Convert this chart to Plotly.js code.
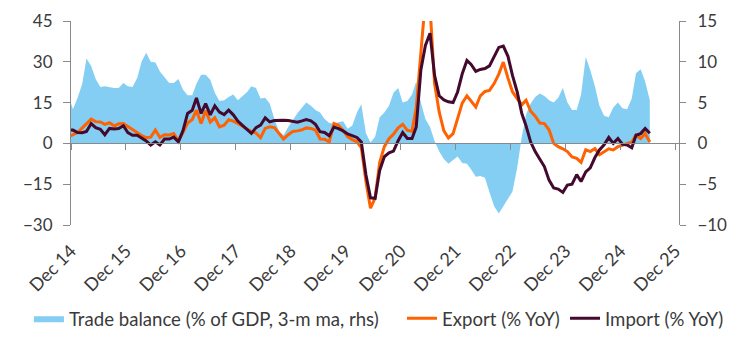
<!DOCTYPE html>
<html>
<head>
<meta charset="utf-8">
<script src="https://cdn.plot.ly/plotly-3.0.1.min.js"></script>
<style>
html,body{margin:0;padding:0;background:#ffffff;}
#chart{width:742px;height:343px;}
</style>
</head>
<body>
<div id="chart"></div>
<script>
// First observation month and number of monthly observations (Nov 2014 .. Jun 2025)
const firstYear = 2014;
const firstMonth = 11;
const nObs = 128;

// Trade balance, % of GDP, 3-m ma (right axis)
const tradeBalance = [
  5.8,
  4.2, 5.6, 7.3, 10.4, 9.5, 7.9, 6.9, 7.0, 6.9, 6.8,
  6.8, 7.4, 7.0, 6.9, 8.0, 10.0, 11.1, 10.0, 9.9, 8.8,
  8.1, 7.4, 7.4, 7.9, 6.6, 5.9, 5.9, 7.3, 8.4, 8.4,
  7.8, 6.2, 5.2, 5.3, 5.7, 6.0, 5.3, 5.8, 6.3, 7.0,
  6.8, 5.5, 5.6, 4.9, 3.0, 1.5, 1.0, 2.0, 2.9, 3.7,
  4.4, 5.0, 4.6, 4.1, 3.8, 3.0, 2.5, 2.4, 2.6, 2.7,
  1.8, 2.2, 3.8, 4.8, 1.2, 0.1, 0.8, 3.2, 3.8, 4.6,
  6.2, 6.8, 5.0, 5.2, 6.0, 7.6, 5.0, 3.0, 2.0, 0.3,
  -1.0, -1.9, -2.5, -2.0, -1.6, -2.4, -2.5, -3.2, -4.1, -4.0,
  -4.2, -6.0, -7.7, -8.6, -7.7, -6.9, -5.9, -3.0, 0.8, 3.5,
  4.9, 5.7, 6.1, 5.8, 5.3, 5.0, 5.6, 6.8, 5.0, 4.1,
  4.1, 6.0, 10.6, 9.0, 7.0, 4.6, 3.4, 3.2, 4.4, 5.0,
  4.3, 4.2, 5.5, 8.6, 9.1, 7.6, 5.3
];

// Export, % YoY (left axis)
const exportYoY = [
  2.4,
  3.1, 4.0, 5.7, 7.3, 8.9, 8.0, 7.9, 7.0, 7.6, 6.4,
  7.2, 7.3, 6.2, 5.2, 4.1, 2.9, 2.1, 2.3, 4.9, 2.2,
  3.2, 3.1, 3.6, 0.9, 4.0, 7.5, 8.8, 12.2, 7.3, 12.0,
  7.8, 9.4, 6.1, 6.7, 8.7, 8.2, 7.3, 6.3, 5.3, 4.4,
  3.8, 2.1, 5.5, 6.1, 5.8, 3.5, 1.6, 3.2, 4.4, 4.6,
  5.0, 5.7, 5.5, 4.9, 1.6, 1.5, 0.6, 7.3, 6.7, 4.8,
  2.5, 1.4, 0.6, -1.5, -14.0, -23.8, -20.0, -7.0, -1.2, 1.7,
  3.4, 5.7, 7.0, 4.8, 4.5, 13.0, 35.0, 53.0, 50.0, 22.0,
  11.5, 4.6, 2.0, 3.6, 9.1, 14.8, 17.5, 15.5, 13.4, 17.5,
  19.1, 19.5, 22.0, 25.5, 29.9, 24.0, 19.0, 16.5, 14.2, 15.9,
  11.8, 10.0, 7.5, 7.3, 5.0, 0.0, -1.2, -2.0, -3.0, -5.0,
  -5.5, -7.0, -2.3, -3.0, -1.9, -4.2, -3.0, -2.0, -2.4, -1.2,
  -0.7, 0.0, 0.4, 3.0, 1.8, 3.6, 0.5
];

// Import, % YoY (left axis)
const importYoY = [
  5.0,
  4.9, 4.0, 3.9, 4.4, 7.3, 5.8, 5.2, 3.2, 5.5, 5.3,
  5.5, 6.5, 4.0, 3.0, 3.0, 2.0, 0.9, -0.6, 0.6, -0.6,
  1.6, 1.6, 2.3, 0.6, 4.6, 11.0, 12.2, 16.7, 11.0, 14.6,
  10.5, 13.8, 11.5, 10.6, 12.2, 10.5, 8.2, 6.6, 5.2, 3.7,
  5.8, 6.7, 9.4, 7.9, 8.4, 8.5, 8.5, 8.4, 8.0, 7.8,
  8.3, 8.8, 8.3, 7.0, 4.3, 4.0, 2.8, 6.0, 5.4, 4.6,
  3.5, 2.7, 2.2, 0.5, -11.6, -20.0, -20.2, -10.0, -4.9, -3.5,
  -2.8, 1.0, 4.0, 1.8, 1.8, 6.0, 27.0, 36.0, 40.5, 25.0,
  17.5, 16.0, 15.3, 15.0, 18.9, 25.6, 30.5, 29.0, 26.5, 27.2,
  27.5, 28.5, 32.0, 35.3, 35.8, 32.0, 25.0, 19.0, 11.0, 6.5,
  0.5, -3.0, -5.8, -8.5, -13.5, -16.4, -16.8, -18.0, -15.3, -15.0,
  -11.5, -14.0, -10.5, -9.0, -5.2, -2.4, -0.5, 2.2, 0.0, 1.8,
  -0.3, -0.6, -1.6, 3.0, 3.6, 5.5, 3.7
];

// X tick positions and labels
const tickDates = ['2014-12-01','2015-12-01','2016-12-01','2017-12-01','2018-12-01','2019-12-01',
                   '2020-12-01','2021-12-01','2022-12-01','2023-12-01','2024-12-01','2025-12-01'];
const tickLabels = ['Dec 14','Dec 15','Dec 16','Dec 17','Dec 18','Dec 19',
                    'Dec 20','Dec 21','Dec 22','Dec 23','Dec 24','Dec 25'];
const leftTicks = [-30, -15, 0, 15, 30, 45];
const rightTicks = [-10, -5, 0, 5, 10, 15];

const seriesNames = ['Trade balance (% of GDP, 3-m ma, rhs)', 'Export (% YoY)', 'Import (% YoY)'];

// monthly observation dates (mid-month)
const dates = [];
for (let i = 0; i < nObs; i++) {
  const t = (firstYear * 12 + (firstMonth - 1)) + i;
  const y = Math.floor(t / 12);
  const m = (t % 12) + 1;
  dates.push(y + '-' + (m < 10 ? '0' + m : m) + '-14');
}

const xRange = ['2014-12-01', '2025-12-25'];
const axisGrey = '#8a8a8a';
const textCol = '#3a3a3a';
const fontFam = 'Lato, "Open Sans", sans-serif';

const traces = [
  {
    x: dates, y: tradeBalance, name: seriesNames[0], legend: 'legend',
    type: 'scatter', mode: 'lines', fill: 'tozeroy',
    fillcolor: '#84CEF3', line: {color: '#84CEF3', width: 0},
    xaxis: 'x', yaxis: 'y', hoverinfo: 'skip'
  },
  {
    x: dates, y: exportYoY, name: seriesNames[1], legend: 'legend2',
    type: 'scatter', mode: 'lines',
    line: {color: '#FF6200', width: 3},
    xaxis: 'x', yaxis: 'y2', hoverinfo: 'skip'
  },
  {
    x: dates, y: importYoY, name: seriesNames[2], legend: 'legend3',
    type: 'scatter', mode: 'lines',
    line: {color: '#430A2E', width: 3},
    xaxis: 'x', yaxis: 'y2', hoverinfo: 'skip'
  },
  {
    x: [], y: [], type: 'scatter', mode: 'lines',
    xaxis: 'x2', yaxis: 'y', showlegend: false, hoverinfo: 'skip'
  }
];

function legendAt(xFrac) {
  return {
    orientation: 'h', xref: 'container', yref: 'container',
    x: xFrac, xanchor: 'left', y: 0.071, yanchor: 'middle',
    font: {size: 18.6, color: textCol}, itemwidth: 30,
    bgcolor: 'rgba(0,0,0,0)'
  };
}

const layout = {
  width: 742, height: 343,
  margin: {l: 71, r: 63, t: 21, b: 118, pad: 0, autoexpand: false},
  paper_bgcolor: '#ffffff', plot_bgcolor: 'rgba(0,0,0,0)',
  font: {family: fontFam, color: textCol, size: 16},
  showlegend: true,
  legend: legendAt(0.039),
  legend2: legendAt(0.5418),
  legend3: legendAt(0.7615),
  xaxis: {
    type: 'date', range: xRange, tickmode: 'array', tickvals: tickDates, ticktext: tickLabels,
    tickangle: -45, showline: false, ticks: '', showgrid: false, zeroline: false,
    tickfont: {size: 18, color: textCol}, ticklabelstandoff: 11, fixedrange: true
  },
  xaxis2: {
    type: 'date', overlaying: 'x', anchor: 'free', position: 0.4, range: xRange,
    tickmode: 'array', tickvals: tickDates, showticklabels: false,
    showline: true, linecolor: axisGrey, linewidth: 1,
    ticks: 'outside', ticklen: 6, tickcolor: axisGrey, tickwidth: 1,
    showgrid: false, zeroline: false, fixedrange: true
  },
  yaxis: {
    side: 'right', range: [-10, 15], tickmode: 'array', tickvals: rightTicks,
    showline: true, linecolor: axisGrey, linewidth: 1,
    ticks: 'outside', ticklen: 6, tickcolor: axisGrey, tickwidth: 1,
    showgrid: false, zeroline: false, ticklabelstandoff: 8,
    tickfont: {size: 17, color: textCol}, fixedrange: true
  },
  yaxis2: {
    side: 'left', overlaying: 'y', anchor: 'x', range: [-30, 45], tickmode: 'array', tickvals: leftTicks,
    showline: true, linecolor: axisGrey, linewidth: 1,
    ticks: 'outside', ticklen: 7, tickcolor: axisGrey, tickwidth: 1,
    showgrid: false, zeroline: false, ticklabelstandoff: 7,
    tickfont: {size: 17, color: textCol}, fixedrange: true
  }
};

Plotly.newPlot('chart', traces, layout, {staticPlot: true, displayModeBar: false});
</script>
</body>
</html>
